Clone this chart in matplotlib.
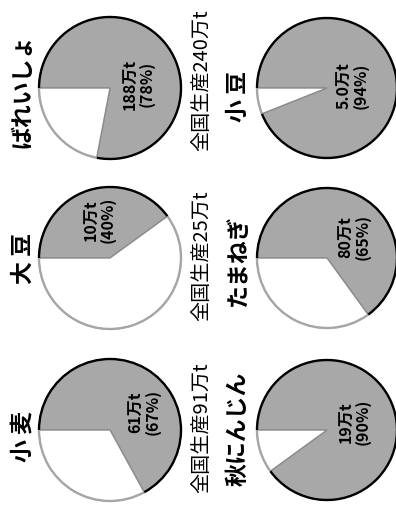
import matplotlib
matplotlib.use('Agg')
import matplotlib.pyplot as plt
from matplotlib.patches import Arc

plt.rcParams['font.family'] = ['Noto Sans CJK JP', 'DejaVu Sans']

# 主産地のシェア (北海道)
crops = ['小 麦', '大 豆', 'ばれいしょ', '秋にんじん', 'たまねぎ', '小 豆']
amounts = ['61', '10', '188', '19', '80', '5.0']   # 万t
shares = [67, 40, 78, 90, 65, 94]                   # %
national = [91, 25, 240]                            # 全国生産 万t (first three)

W, H = 396, 509
fig = plt.figure(figsize=(W / 100, H / 100), dpi=100)
ax = fig.add_axes([0, 0, 1, 1])

# layout in image pixels (y downwards), converted below
col_x = [110, 327]
row_y = [430, 258, 88]
radius = [71, 70]
name_x = [23, 238]
name_y = [[436, 258, 91], [429, 260, 96]]
lab_off = [(34, -18), (-11, -38), (28, -4), (27, -8), (27, -21), (25, -2)]

GRAY = '#a8a8a8'

for i, crop in enumerate(crops):
    col, row = divmod(i, 3)
    cx = col_x[col]
    cy = H - row_y[row]
    r = radius[col]
    wedges, _ = ax.pie([shares[i], 100 - shares[i]], center=(cx, cy), radius=r,
                       startangle=180, counterclock=False,
                       colors=[GRAY, 'white'],
                       wedgeprops=dict(edgecolor='#8c8c8c', linewidth=1.0))
    for w, c in zip(wedges, ['black', '#a6a6a6']):
        ax.add_patch(Arc(w.center, 2 * w.r, 2 * w.r, theta1=w.theta1,
                         theta2=w.theta2, color=c, lw=1.7, zorder=3))

    dx, dy = lab_off[i]
    ax.text(cx + dx, cy - dy, f'{amounts[i]}万t\n({shares[i]}%)', rotation=90,
            ha='center', va='center', fontsize=11.5, fontweight='bold',
            linespacing=1.1, zorder=4)

    ax.text(name_x[col], H - name_y[col][row], crop, rotation=90,
            ha='center', va='center', fontsize=16.5, fontweight='bold')

    if col == 0:
        ax.text(202, cy - r + 8, f'全国生産{national[row]}万t', rotation=90,
                ha='center', va='bottom', fontsize=14.5)

ax.set_xlim(0, W)
ax.set_ylim(0, H)
ax.set_aspect('equal')
ax.axis('off')

fig.savefig('out.png', dpi=100)
